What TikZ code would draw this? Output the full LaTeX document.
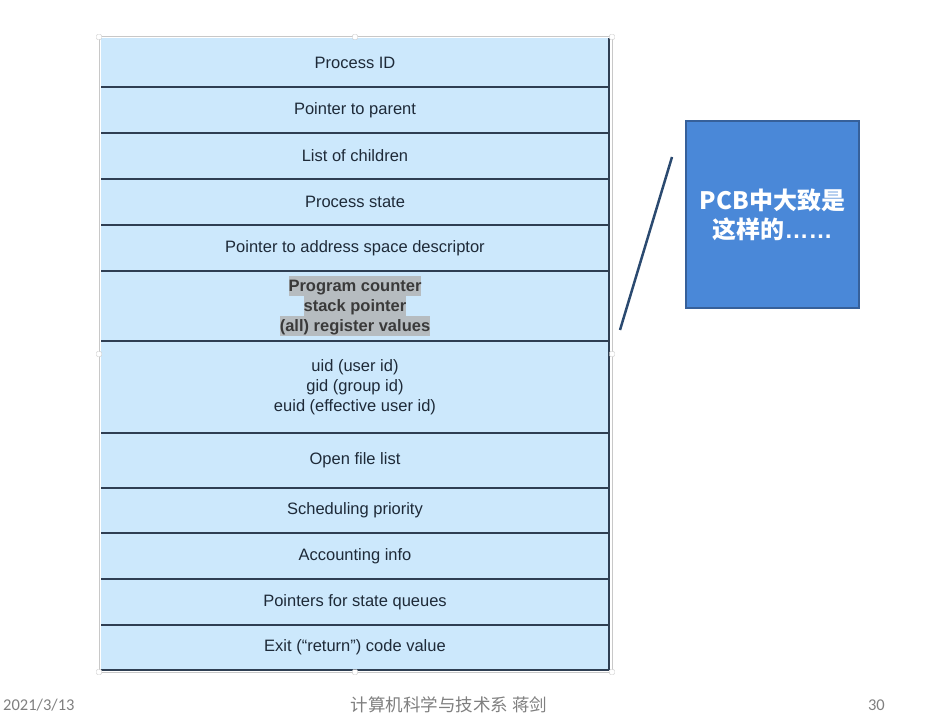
\documentclass[tikz,border=0pt]{standalone}
\usepackage{fontspec}
\setmainfont{Liberation Sans}
\newfontfamily\cjkfont{Noto Sans CJK SC}
\newfontfamily\footfont{Carlito}
\usetikzlibrary{positioning}
\definecolor{rowfill}{HTML}{CCE8FC}
\definecolor{rowline}{HTML}{2E3E52}
\definecolor{rowtext}{HTML}{1E2A38}
\definecolor{hilite}{HTML}{B6BCC0}
\definecolor{hltext}{HTML}{3A3A3A}
\definecolor{notefill}{HTML}{4A88D8}
\definecolor{noteline}{HTML}{36609A}
\definecolor{leaderblue}{HTML}{2B4A70}
\definecolor{framegray}{HTML}{C8C8C8}
\definecolor{footgray}{HTML}{7F7F7F}
\newcommand\hlbox[1]{{\setlength\fboxsep{0pt}\colorbox{hilite}{\rule[-5pt]{0pt}{20pt}#1}}}

\begin{document}
\begin{tikzpicture}[x=1pt,y=-1pt,
    pcbrow/.style={minimum width=508pt, inner sep=0pt, outer sep=0pt, fill=rowfill, text=rowtext, align=center, font=\fontsize{16.5}{20}\selectfont},
    rowsep/.style={draw=rowline, line width=1.6pt},
    handle/.style={draw=framegray, fill=white, minimum size=5pt, inner sep=0pt, rounded corners=1pt},
    notebox/.style={minimum width=173pt, minimum height=187pt, fill=notefill, draw=noteline, line width=1.5pt, text=white, align=center, font=\cjkfont\bfseries\fontsize{24}{29}\selectfont},
    foot/.style={text=footgray, inner sep=0pt}]
    \useasboundingbox (0,0) rectangle (936,722);
    \draw[framegray, line width=1pt] (99,37) rectangle (612,672);

    % the PCB fields
    \node (pid) [pcbrow, minimum height=49pt, anchor=north] at (355,38) {Process ID};
    \node (parent) [pcbrow, minimum height=46pt, below=0pt of pid] {Pointer to parent};
    \node (children) [pcbrow, minimum height=46pt, below=0pt of parent] {List of children};
    \node (pstate) [pcbrow, minimum height=46pt, below=0pt of children] {Process state};
    \node (addrspace) [pcbrow, minimum height=46pt, below=0pt of pstate] {Pointer to address space descriptor};
    \node (regs) [pcbrow, minimum height=70pt, below=0pt of addrspace, text=hltext, font=\bfseries\fontsize{16.5}{20}\selectfont] {\hlbox{Program counter}\\\hlbox{stack pointer}\\\hlbox{(all) register values}};
    \node (ids) [pcbrow, minimum height=92pt, below=0pt of regs] {uid (user id)\\gid (group id)\\euid (effective user id)};
    \node (files) [pcbrow, minimum height=55pt, below=0pt of ids] {Open file list};
    \node (prio) [pcbrow, minimum height=45pt, below=0pt of files] {Scheduling priority};
    \node (acct) [pcbrow, minimum height=46pt, below=0pt of prio] {Accounting info};
    \node (queues) [pcbrow, minimum height=46pt, below=0pt of acct] {Pointers for state queues};
    \node (exitcode) [pcbrow, minimum height=45pt, below=0pt of queues] {Exit (“return”) code value};

    \foreach \r in {pid,parent,children,pstate,addrspace,regs,ids,files,prio,acct,queues,exitcode}
        \draw[rowsep] (\r.south west) -- (\r.south east);
    \draw[rowsep] (pid.north east) -- (exitcode.south east);

    % selection handles
    \node (hnw) [handle] at (99,37) {};
    \node (hn) [handle] at (355,37) {};
    \node (hne) [handle] at (612,37) {};
    \node (hw) [handle] at (99,354) {};
    \node (he) [handle] at (612,354) {};
    \node (hsw) [handle] at (99,672) {};
    \node (hs) [handle] at (355,672) {};
    \node (hse) [handle] at (612,672) {};

    % callout
    \node (note) [notebox] at (772.5,214.5) {PCB中大致是\\这样的{\rmfamily\bfseries ……}};
    \coordinate (leadtop) at (672,157);
    \coordinate (leadbot) at (620,330);
    \draw[leaderblue, line width=2.5pt] (leadtop) -- (leadbot);

    % footer
    \node (date) [foot, anchor=west, font=\footfont\fontsize{16.5}{18}\selectfont] at (3,705) {2021/3/13};
    \node (dept) [foot, font=\cjkfont\fontsize{17.5}{18}\selectfont] at (449,705) {计算机科学与技术系 蒋剑};
    \node (pageno) [foot, anchor=east, font=\footfont\fontsize{16.5}{18}\selectfont] at (885,705) {30};
\end{tikzpicture}
\end{document}
